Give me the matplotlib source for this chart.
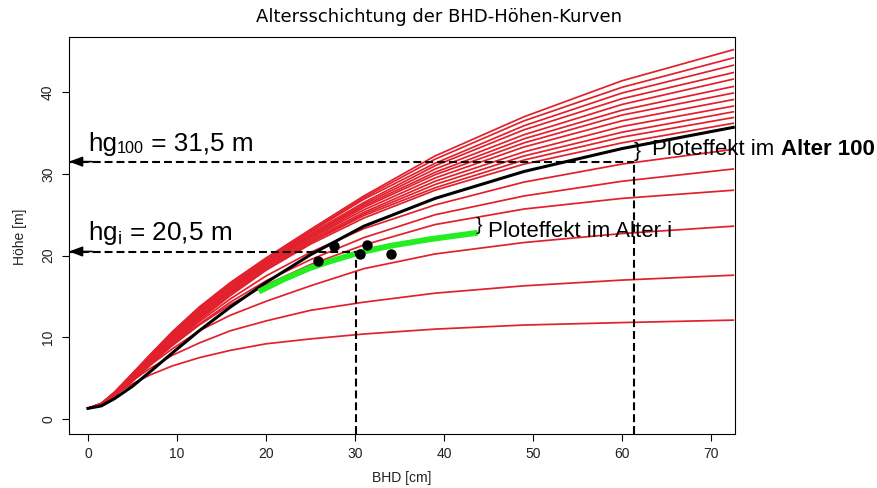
import matplotlib.pyplot as plt

dbh_grid = [0, 1.5, 3, 5, 7, 9.5, 12.5, 16, 20, 25, 31, 39, 49, 60, 72.5]

# red age curves (height in m at each dbh_grid value), oldest at the top
red_heights = [
    [1.3, 1.9, 3.3, 5.6, 7.9, 10.7, 13.7, 16.7, 19.7, 23.2, 27.3, 32.2, 37.0, 41.4, 45.2],
    [1.3, 1.9, 3.3, 5.5, 7.8, 10.6, 13.6, 16.6, 19.6, 23.0, 27.1, 31.8, 36.5, 40.6, 44.2],
    [1.3, 1.9, 3.2, 5.4, 7.7, 10.4, 13.4, 16.4, 19.4, 22.9, 26.9, 31.3, 35.9, 39.9, 43.3],
    [1.3, 1.9, 3.2, 5.3, 7.5, 10.3, 13.3, 16.3, 19.3, 22.7, 26.5, 31.0, 35.4, 39.2, 42.4],
    [1.3, 1.8, 3.1, 5.2, 7.4, 10.2, 13.1, 16.1, 19.2, 22.5, 26.3, 30.6, 34.8, 38.5, 41.6],
    [1.3, 1.8, 3.1, 5.2, 7.3, 10.0, 13.0, 16.0, 19.0, 22.4, 26.1, 30.2, 34.3, 37.8, 40.7],
    [1.3, 1.8, 3.0, 5.1, 7.2, 9.9, 12.8, 15.8, 18.9, 22.2, 25.9, 29.9, 33.8, 37.2, 39.9],
    [1.3, 1.8, 3.0, 5.0, 7.1, 9.8, 12.7, 15.7, 18.8, 22.1, 25.6, 29.5, 33.3, 36.5, 39.1],
    [1.3, 1.8, 2.9, 4.9, 7.0, 9.6, 12.5, 15.5, 18.6, 21.9, 25.3, 29.1, 32.7, 35.8, 38.3],
    [1.3, 1.7, 2.9, 4.8, 6.8, 9.5, 12.4, 15.4, 18.5, 21.7, 25.1, 28.7, 32.2, 35.1, 37.6],
    [1.3, 1.7, 2.9, 4.7, 6.7, 9.3, 12.3, 15.3, 18.3, 21.6, 24.9, 28.3, 31.7, 34.5, 36.9],
    [1.3, 1.7, 2.8, 4.6, 6.6, 9.2, 12.1, 15.1, 18.2, 21.4, 24.6, 28.0, 31.2, 33.8, 36.2],
    [1.3, 1.8, 2.8, 4.7, 6.7, 9.1, 11.9, 14.7, 17.5, 20.4, 23.3, 26.2, 29.0, 31.2, 33.0],
    [1.3, 1.8, 2.9, 4.7, 6.7, 9.1, 11.6, 14.3, 16.9, 19.5, 22.2, 25.0, 27.3, 29.1, 30.6],
    [1.3, 1.8, 2.9, 4.8, 6.7, 9.0, 11.5, 14.0, 16.4, 18.9, 21.3, 23.8, 25.7, 27.0, 28.0],
    [1.3, 1.9, 3.0, 4.8, 6.6, 8.6, 10.8, 12.7, 14.4, 16.3, 18.4, 20.2, 21.6, 22.7, 23.6],
    [1.3, 1.9, 3.1, 4.7, 6.2, 7.8, 9.3, 10.8, 12.0, 13.3, 14.3, 15.4, 16.3, 17.0, 17.6],
    [1.3, 1.9, 3.0, 4.3, 5.4, 6.5, 7.5, 8.4, 9.2, 9.8, 10.4, 11.0, 11.5, 11.8, 12.1],
]

# black reference curve (age 100)
black_h = [1.3, 1.6, 2.5, 4.0, 5.8, 8.1, 10.8, 13.7, 16.7, 20.1, 23.6, 27.0, 30.3, 33.1, 35.7]

# green curve (age i) and measured trees
green_dbh = [19.2, 22, 25, 27.2, 30.6, 34, 38.4, 43.8]
green_h = [15.6, 17.1, 18.5, 19.3, 20.4, 21.2, 22.0, 22.8]
tree_dbh = [25.9, 27.7, 30.6, 31.4, 34.1]
tree_h = [19.3, 21.2, 20.2, 21.3, 20.2]

hg100, d100 = 31.5, 61.35
hgi, dgi = 20.5, 30.1

sans = "Liberation Sans"
fig = plt.figure(figsize=(8.78, 4.88), dpi=100)
ax = fig.add_axes([69 / 878, 1 - 434 / 488, 666 / 878, 397 / 488])

for hh in red_heights:
    ax.plot(dbh_grid, hh, color="#e2202c", lw=1.25)
ax.plot(dbh_grid, black_h, color="black", lw=2.2)
ax.plot(green_dbh, green_h, color="#22ee22", lw=4.2, solid_capstyle="butt")
ax.plot(tree_dbh, tree_h, "o", color="black", ms=6.5)

dash = (0, (3.8, 1.9))
ax.plot([-2.13, d100], [hg100, hg100], ls=dash, color="black", lw=1.5)
ax.plot([d100, d100], [-1.84, hg100], ls=dash, color="black", lw=1.5)
ax.plot([-2.13, dgi], [hgi, hgi], ls=dash, color="black", lw=1.5)
ax.plot([dgi, dgi], [-1.84, hgi], ls=dash, color="black", lw=1.5)
for yy in (hg100, hgi):
    ax.annotate("", xy=(-2.13, yy), xytext=(0.5, yy),
                arrowprops=dict(arrowstyle="-|>,head_length=0.8,head_width=0.3",
                                color="black", lw=1.2, shrinkA=0, shrinkB=0))

# texts in the plot
t1 = ax.text(0.0, 32.84, "hg", fontsize=18.8, family=sans)
t2 = ax.annotate("100", xy=(1, 0), xycoords=t1, va="bottom", fontsize=11.7, family=sans)
ax.annotate(" = 31,5 m", xy=(1, 0), xycoords=t2, va="bottom", fontsize=18.8, family=sans)
ax.text(0.0, 21.9, r"hg$_{\mathregular{i}}$ = 20,5 m", fontsize=18.8, family=sans)

ax.text(61.3, 32.8, "}", fontsize=15, family=sans, va="center", ha="left")
p1 = ax.text(63.4, 32.3, "Ploteffekt im ", fontsize=16, family=sans)
ax.annotate("Alter 100", xy=(1, 0), xycoords=p1, va="bottom", fontsize=16,
            family=sans, fontweight="bold")
ax.text(43.6, 23.7, "}", fontsize=14, family=sans, va="center", ha="left")
ax.text(44.9, 22.3, "Ploteffekt im Alter i", fontsize=16, family=sans)

ax.set_xlim(-2.13, 72.7)
ax.set_ylim(-1.84, 46.76)
ax.set_xticks(range(0, 80, 10))
ax.set_yticks(range(0, 50, 10))
ax.tick_params(axis="both", direction="out", length=5, width=0.8, labelsize=10,
               labelcolor="#222222")
ax.tick_params(axis="x", pad=4.5)
ax.tick_params(axis="y", pad=5)
for lab in ax.get_yticklabels():
    lab.set_rotation(90)
    lab.set_va("center")
for lab in ax.get_xticklabels() + ax.get_yticklabels():
    lab.set_family(sans)

fig.text(20 / 878, 1 - 237 / 488, "Höhe [m]", rotation=90, ha="center", va="center",
         fontsize=10, family=sans, color="#222222")
fig.text(402 / 878, 1 - 478 / 488, "BHD [cm]", ha="center", va="center",
         fontsize=10, family=sans, color="#222222")
fig.text(0.5, 1 - 17 / 488, "Altersschichtung der BHD-Höhen-Kurven", ha="center",
         va="center", fontsize=13, family="DejaVu Sans")

fig.savefig("out.png", dpi=100)
